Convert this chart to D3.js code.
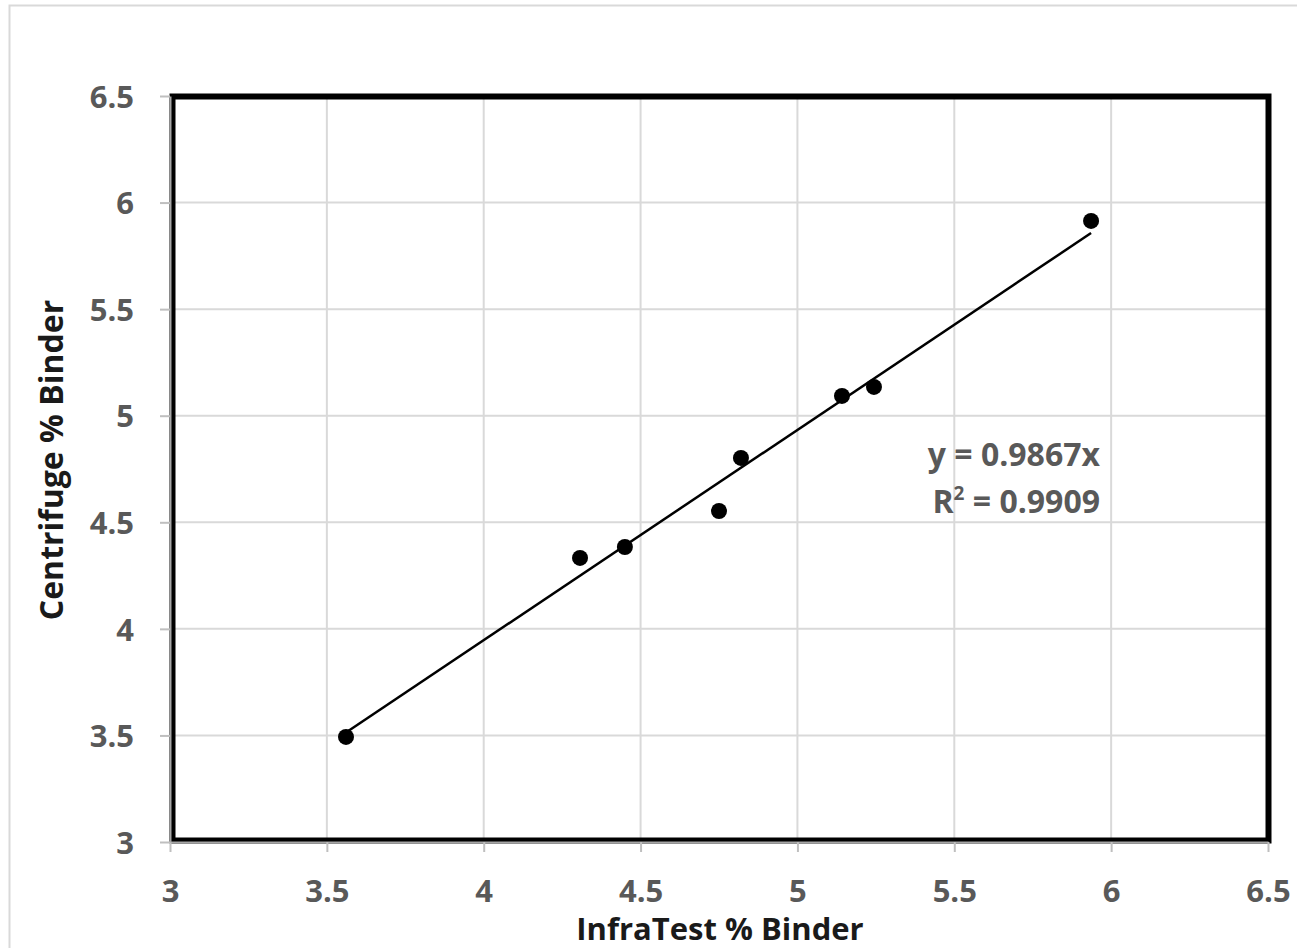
<!DOCTYPE html>
<html>
<head>
<meta charset="utf-8">
<script src="https://cdn.jsdelivr.net/npm/d3@7"></script>
<style>
  body { margin: 0; background: #fff; }
</style>
</head>
<body>
<div id="chart"></div>
<script>
// InfraTest vs centrifuge binder content
const infraTest = [3.561, 4.307, 4.45, 4.75, 4.82, 5.142, 5.244, 5.936];
const centrifuge = [3.493, 4.333, 4.384, 4.553, 4.802, 5.093, 5.135, 5.914];
const xTicks = [3, 3.5, 4, 4.5, 5, 5.5, 6, 6.5];
const yTicks = [3, 3.5, 4, 4.5, 5, 5.5, 6, 6.5];
const slope = 0.9867;
const equationLines = ['y = 0.9867x', 'R2 = 0.9909'];

const width = 1297, height = 948;
const margins = { top: 96, right: 29, bottom: 106, left: 170 };
const font = '"Open Sans", "Liberation Sans", Arial, sans-serif';
const labelColor = '#595959';

const svg = d3.select('#chart').append('svg')
  .attr('width', width)
  .attr('height', height);

// outer chart border
svg.append('rect')
  .attr('x', 9.5).attr('y', 5.5)
  .attr('width', width).attr('height', height)
  .attr('fill', 'none')
  .attr('stroke', '#d9d9d9')
  .attr('stroke-width', 2);

const x = d3.scaleLinear()
  .domain([3, 6.5])
  .range([margins.left, width - margins.right]);
const y = d3.scaleLinear()
  .domain([3, 6.5])
  .range([height - margins.bottom, margins.top]);

// gridlines
svg.append('g')
  .selectAll('line')
  .data(xTicks)
  .join('line')
    .attr('x1', d => x(d)).attr('x2', d => x(d))
    .attr('y1', y(6.5)).attr('y2', y(3))
    .attr('stroke', '#d9d9d9')
    .attr('stroke-width', 2);
svg.append('g')
  .selectAll('line')
  .data(yTicks)
  .join('line')
    .attr('x1', x(3)).attr('x2', x(6.5))
    .attr('y1', d => y(d)).attr('y2', d => y(d))
    .attr('stroke', '#d9d9d9')
    .attr('stroke-width', 2);

// thick plot frame
svg.append('rect')
  .attr('x', x(3) + 2.5)
  .attr('y', y(6.5) + 0.5)
  .attr('width', x(6.5) - x(3) - 2)
  .attr('height', y(3) - y(6.5) - 2)
  .attr('fill', 'none')
  .attr('stroke', '#000')
  .attr('stroke-width', 6);

// axes
const xAxis = d3.axisBottom(x)
  .tickValues(xTicks)
  .tickFormat(d3.format('~g'))
  .tickSizeInner(10)
  .tickSizeOuter(0)
  .tickPadding(28);
const yAxis = d3.axisLeft(y)
  .tickValues(yTicks)
  .tickFormat(d3.format('~g'))
  .tickSizeInner(10)
  .tickSizeOuter(0)
  .tickPadding(26);

const gx = svg.append('g')
  .attr('transform', `translate(0, ${y(3)})`)
  .call(xAxis);
const gy = svg.append('g')
  .attr('transform', `translate(${x(3)}, 0)`)
  .call(yAxis);

for (const g of [gx, gy]) {
  g.select('.domain').attr('stroke', '#a6a6a6').attr('stroke-width', 2);
  g.selectAll('.tick line').attr('stroke', '#bfbfbf').attr('stroke-width', 2);
  g.selectAll('.tick text')
    .attr('fill', labelColor)
    .attr('font-family', font)
    .attr('font-weight', 'bold')
    .attr('font-size', '31px');
}
gy.selectAll('.tick text').attr('dy', '0.36em');

// trendline through origin
const xExtent = d3.extent(infraTest);
svg.append('line')
  .attr('x1', x(xExtent[0])).attr('y1', y(slope * xExtent[0]))
  .attr('x2', x(xExtent[1])).attr('y2', y(slope * xExtent[1]))
  .attr('stroke', '#000')
  .attr('stroke-width', 2.5);

// points
svg.append('g')
  .selectAll('circle')
  .data(infraTest.map((v, i) => [v, centrifuge[i]]))
  .join('circle')
    .attr('cx', d => x(d[0]))
    .attr('cy', d => y(d[1]))
    .attr('r', 8)
    .attr('fill', '#000');

// equation label
const eq = svg.append('text')
  .attr('text-anchor', 'end')
  .attr('font-family', font)
  .attr('font-weight', 'bold')
  .attr('font-size', '32px')
  .attr('fill', labelColor);
eq.append('tspan')
  .attr('x', 1100).attr('y', 466)
  .text(equationLines[0]);
const r2 = eq.append('tspan')
  .attr('x', 1100).attr('y', 513);
r2.append('tspan').text('R');
r2.append('tspan').attr('font-size', '19px').attr('dy', -13).text('2');
r2.append('tspan').attr('dy', 13).text(equationLines[1].slice(2));

// axis titles
svg.append('text')
  .attr('x', (x(3) + x(6.5)) / 2 + 1)
  .attr('y', 940)
  .attr('text-anchor', 'middle')
  .attr('font-family', font)
  .attr('font-weight', 'bold')
  .attr('font-size', '31px')
  .attr('fill', '#1a1a1a')
  .text('InfraTest % Binder');

svg.append('text')
  .attr('transform', `translate(63, ${(y(3) + y(6.5)) / 2 - 9}) rotate(-90)`)
  .attr('text-anchor', 'middle')
  .attr('font-family', font)
  .attr('font-weight', 'bold')
  .attr('font-size', '32px')
  .attr('fill', '#1a1a1a')
  .text('Centrifuge % Binder');
</script>
</body>
</html>
